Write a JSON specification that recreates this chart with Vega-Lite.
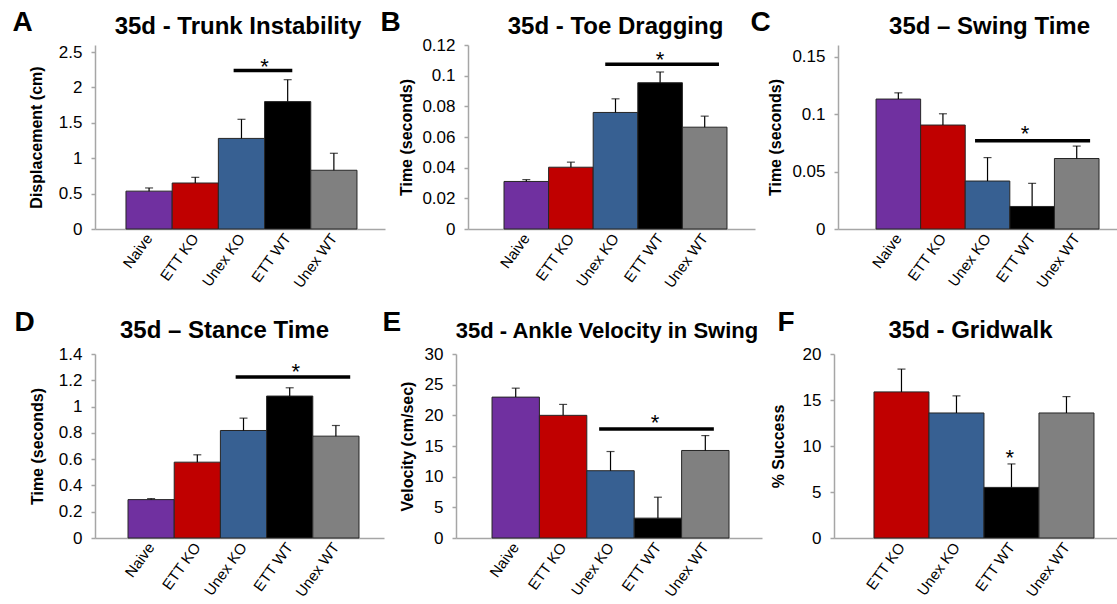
{
  "$schema": "https://vega.github.io/schema/vega-lite/v6.json",
  "padding": {"left": 12, "top": 8, "right": 0, "bottom": 0},
  "background": "white",
  "config": {
    "view": {"stroke": null},
    "font": "Liberation Sans",
    "title": {"font": "Liberation Sans", "fontSize": 24, "fontWeight": "bold", "color": "black", "baseline": "alphabetic"},
    "axisY": {"domainColor": "#a6a6a6", "domainWidth": 1.5, "tickColor": "#a6a6a6", "tickWidth": 1.5, "tickSize": 4, "tickCount": 20, "grid": false, "labelFont": "Liberation Sans", "labelFontSize": 17, "labelColor": "black", "labelPadding": 9, "labelOverlap": false, "labelFlush": false, "titleFont": "Liberation Sans", "titleFontSize": 16, "titleFontWeight": "bold", "titleColor": "black", "titlePadding": 4},
    "axisX": {"domainColor": "#a6a6a6", "domainWidth": 1.5, "ticks": false, "labelAngle": -54, "labelFont": "Liberation Sans", "labelFontSize": 15, "labelColor": "black", "labelPadding": 6, "labelOverlap": false, "titleFont": "Liberation Sans", "titleFontSize": 28, "titleFontWeight": "bold", "titleColor": "black"}
  },
  "datasets": {
    "A": [
      {"group": "Naive", "mean": 0.535, "upper": 0.58},
      {"group": "ETT KO", "mean": 0.65, "upper": 0.73},
      {"group": "Unex KO", "mean": 1.28, "upper": 1.55},
      {"group": "ETT WT", "mean": 1.8, "upper": 2.11},
      {"group": "Unex WT", "mean": 0.83, "upper": 1.07}
    ],
    "sigA": [{"from": "Unex KO", "to": "ETT WT", "y": 2.24, "star": "ETT WT", "sy": 2.38}],
    "B": [
      {"group": "Naive", "mean": 0.031, "upper": 0.0322},
      {"group": "ETT KO", "mean": 0.0403, "upper": 0.0436},
      {"group": "Unex KO", "mean": 0.076, "upper": 0.0849},
      {"group": "ETT WT", "mean": 0.0954, "upper": 0.1024},
      {"group": "Unex WT", "mean": 0.0664, "upper": 0.0736}
    ],
    "sigB": [{"from": "Unex KO", "to": "Unex WT", "y": 0.1074, "star": "ETT WT", "sy": 0.1139}],
    "C": [
      {"group": "Naive", "mean": 0.113, "upper": 0.1184},
      {"group": "ETT KO", "mean": 0.0904, "upper": 0.1002},
      {"group": "Unex KO", "mean": 0.0417, "upper": 0.0621},
      {"group": "ETT WT", "mean": 0.0196, "upper": 0.0397},
      {"group": "Unex WT", "mean": 0.0613, "upper": 0.0721}
    ],
    "sigC": [{"from": "Unex KO", "to": "Unex WT", "y": 0.0768, "star": "ETT WT", "sy": 0.0878}],
    "D": [
      {"group": "Naive", "mean": 0.292, "upper": 0.3},
      {"group": "ETT KO", "mean": 0.577, "upper": 0.633},
      {"group": "Unex KO", "mean": 0.818, "upper": 0.912},
      {"group": "ETT WT", "mean": 1.08, "upper": 1.143},
      {"group": "Unex WT", "mean": 0.775, "upper": 0.856}
    ],
    "sigD": [{"from": "Unex KO", "to": "Unex WT", "y": 1.225, "star": "ETT WT", "sy": 1.311}],
    "E": [
      {"group": "Naive", "mean": 22.97, "upper": 24.43},
      {"group": "ETT KO", "mean": 20.0, "upper": 21.78},
      {"group": "Unex KO", "mean": 10.97, "upper": 14.1},
      {"group": "ETT WT", "mean": 3.24, "upper": 6.65},
      {"group": "Unex WT", "mean": 14.27, "upper": 16.7}
    ],
    "sigE": [{"from": "Unex KO", "to": "Unex WT", "y": 17.78, "star": "ETT WT", "sy": 19.68}],
    "F": [
      {"group": "ETT KO", "mean": 15.88, "upper": 18.36},
      {"group": "Unex KO", "mean": 13.59, "upper": 15.45},
      {"group": "ETT WT", "mean": 5.5, "upper": 8.05},
      {"group": "Unex WT", "mean": 13.59, "upper": 15.37}
    ],
    "sigF": [{"star": "ETT WT", "sy": 9.32}]
  },
  "spacing": 17,
  "resolve": {"scale": {"x": "independent", "y": "independent"}},
  "vconcat": [
    {
      "hconcat": [
        {
          "width": 290, "height": 184,
          "title": {"text": "35d - Trunk Instability", "dx": -2, "offset": -31},
          "data": {"name": "A"},
          "resolve": {"axis": {"x": "independent"}},
          "layer": [
            {"mark": {"type": "bar", "stroke": "#262626", "strokeWidth": 1},
             "encoding": {
               "x": {"field": "group", "type": "nominal", "title": null, "scale": {"domain": ["Naive", "ETT KO", "Unex KO", "ETT WT", "Unex WT"], "paddingInner": 0, "paddingOuter": 0.6385, "align": 0.525}},
               "y": {"field": "mean", "type": "quantitative", "scale": {"domain": [0, 2.5]}, "axis": {"values": [0, 0.5, 1, 1.5, 2, 2.5], "tickCount": 20, "labelExpr": "format(datum.value, '~g')", "labelOverlap": false, "title": "Displacement (cm)", "minExtent": 47, "maxExtent": 47}},
               "color": {"field": "group", "type": "nominal", "legend": null, "scale": {"domain": ["Naive", "ETT KO", "Unex KO", "ETT WT", "Unex WT"], "range": ["#7030a0", "#c00000", "#376092", "#000000", "#808080"]}}}},
            {"mark": {"type": "rule", "color": "black", "strokeWidth": 1.2},
             "encoding": {"x": {"field": "group", "type": "nominal", "axis": null}, "y": {"field": "mean", "type": "quantitative"}, "y2": {"field": "upper"}}},
            {"mark": {"type": "tick", "color": "black", "orient": "horizontal", "size": 8, "thickness": 1.2},
             "encoding": {"x": {"field": "group", "type": "nominal", "axis": null}, "y": {"field": "upper", "type": "quantitative"}}},
            {"data": {"name": "sigA"}, "mark": {"type": "rule", "color": "black", "strokeWidth": 3.5},
             "encoding": {"x": {"field": "from", "type": "nominal", "bandPosition": 0.33, "axis": {"orient": "top", "labels": false, "ticks": false, "domain": false, "title": "A", "titleX": -83, "titleY": -15, "titleAlign": "left", "titleBaseline": "alphabetic", "titleAngle": 0}}, "x2": {"field": "to", "bandPosition": 0.6}, "y": {"field": "y", "type": "quantitative"}}},
            {"data": {"name": "sigA"}, "mark": {"type": "text", "text": "*", "fontSize": 22, "baseline": "middle", "dy": 6, "color": "black"},
             "encoding": {"x": {"field": "star", "type": "nominal", "axis": null, "bandPosition": 0}, "y": {"field": "sy", "type": "quantitative"}}}
          ]
        },
        {
          "width": 287, "height": 184,
          "title": {"text": "35d - Toe Dragging", "dx": 4, "offset": -31},
          "data": {"name": "B"},
          "resolve": {"axis": {"x": "independent"}},
          "layer": [
            {"mark": {"type": "bar", "stroke": "#262626", "strokeWidth": 1},
             "encoding": {
               "x": {"field": "group", "type": "nominal", "title": null, "scale": {"domain": ["Naive", "ETT KO", "Unex KO", "ETT WT", "Unex WT"], "paddingInner": 0, "paddingOuter": 0.7175, "align": 0.5625}},
               "y": {"field": "mean", "type": "quantitative", "scale": {"domain": [0, 0.12]}, "axis": {"values": [0, 0.02, 0.04, 0.06, 0.08, 0.1, 0.12], "tickCount": 20, "labelExpr": "format(datum.value, '~g')", "labelOverlap": false, "title": "Time (seconds)", "minExtent": 50, "maxExtent": 50}},
               "color": {"field": "group", "type": "nominal", "legend": null, "scale": {"domain": ["Naive", "ETT KO", "Unex KO", "ETT WT", "Unex WT"], "range": ["#7030a0", "#c00000", "#376092", "#000000", "#808080"]}}}},
            {"mark": {"type": "rule", "color": "black", "strokeWidth": 1.2},
             "encoding": {"x": {"field": "group", "type": "nominal", "axis": null}, "y": {"field": "mean", "type": "quantitative"}, "y2": {"field": "upper"}}},
            {"mark": {"type": "tick", "color": "black", "orient": "horizontal", "size": 8, "thickness": 1.2},
             "encoding": {"x": {"field": "group", "type": "nominal", "axis": null}, "y": {"field": "upper", "type": "quantitative"}}},
            {"data": {"name": "sigB"}, "mark": {"type": "rule", "color": "black", "strokeWidth": 3.5},
             "encoding": {"x": {"field": "from", "type": "nominal", "bandPosition": 0.27, "axis": {"orient": "top", "labels": false, "ticks": false, "domain": false, "title": "B", "titleX": -88, "titleY": -15, "titleAlign": "left", "titleBaseline": "alphabetic", "titleAngle": 0}}, "x2": {"field": "to", "bandPosition": 0.82}, "y": {"field": "y", "type": "quantitative"}}},
            {"data": {"name": "sigB"}, "mark": {"type": "text", "text": "*", "fontSize": 22, "baseline": "middle", "dy": 6, "color": "black"},
             "encoding": {"x": {"field": "star", "type": "nominal", "axis": null, "bandPosition": 0.5}, "y": {"field": "sy", "type": "quantitative"}}}
          ]
        },
        {
          "width": 279, "height": 184,
          "title": {"text": "35d – Swing Time", "dx": 12, "offset": -31},
          "data": {"name": "C"},
          "resolve": {"axis": {"x": "independent"}},
          "layer": [
            {"mark": {"type": "bar", "stroke": "#262626", "strokeWidth": 1},
             "encoding": {
               "x": {"field": "group", "type": "nominal", "title": null, "scale": {"domain": ["Naive", "ETT KO", "Unex KO", "ETT WT", "Unex WT"], "paddingInner": 0, "paddingOuter": 0.628, "align": 0.679}},
               "y": {"field": "mean", "type": "quantitative", "scale": {"domain": [0, 0.15]}, "axis": {"values": [0, 0.05, 0.1, 0.15], "tickCount": 20, "labelExpr": "format(datum.value, '~g')", "labelOverlap": false, "title": "Time (seconds)", "minExtent": 51, "maxExtent": 51}},
               "color": {"field": "group", "type": "nominal", "legend": null, "scale": {"domain": ["Naive", "ETT KO", "Unex KO", "ETT WT", "Unex WT"], "range": ["#7030a0", "#c00000", "#376092", "#000000", "#808080"]}}}},
            {"mark": {"type": "rule", "color": "black", "strokeWidth": 1.2},
             "encoding": {"x": {"field": "group", "type": "nominal", "axis": null}, "y": {"field": "mean", "type": "quantitative"}, "y2": {"field": "upper"}}},
            {"mark": {"type": "tick", "color": "black", "orient": "horizontal", "size": 8, "thickness": 1.2},
             "encoding": {"x": {"field": "group", "type": "nominal", "axis": null}, "y": {"field": "upper", "type": "quantitative"}}},
            {"data": {"name": "sigC"}, "mark": {"type": "rule", "color": "black", "strokeWidth": 3.5},
             "encoding": {"x": {"field": "from", "type": "nominal", "bandPosition": 0.22, "axis": {"orient": "top", "labels": false, "ticks": false, "domain": false, "title": "C", "titleX": -88, "titleY": -15, "titleAlign": "left", "titleBaseline": "alphabetic", "titleAngle": 0}}, "x2": {"field": "to", "bandPosition": 0.8}, "y": {"field": "y", "type": "quantitative"}}},
            {"data": {"name": "sigC"}, "mark": {"type": "text", "text": "*", "fontSize": 22, "baseline": "middle", "dy": 6, "color": "black"},
             "encoding": {"x": {"field": "star", "type": "nominal", "axis": null, "bandPosition": 0.34}, "y": {"field": "sy", "type": "quantitative"}}}
          ]
        }
      ],
      "spacing": 83,
      "bounds": "flush",
      "align": "none",
      "resolve": {"scale": {"x": "independent", "y": "independent"}}
    },
    {
      "hconcat": [
        {
          "width": 289, "height": 184,
          "title": {"text": "35d – Stance Time", "dx": -15, "offset": -35},
          "data": {"name": "D"},
          "resolve": {"axis": {"x": "independent"}},
          "layer": [
            {"mark": {"type": "bar", "stroke": "#262626", "strokeWidth": 1},
             "encoding": {
               "x": {"field": "group", "type": "nominal", "title": null, "scale": {"domain": ["Naive", "ETT KO", "Unex KO", "ETT WT", "Unex WT"], "paddingInner": 0, "paddingOuter": 0.628, "align": 0.569}},
               "y": {"field": "mean", "type": "quantitative", "scale": {"domain": [0, 1.4]}, "axis": {"values": [0, 0.2, 0.4, 0.6, 0.8, 1, 1.2, 1.4], "tickCount": 20, "labelExpr": "format(datum.value, '~g')", "labelOverlap": false, "title": "Time (seconds)", "minExtent": 46, "maxExtent": 46}},
               "color": {"field": "group", "type": "nominal", "legend": null, "scale": {"domain": ["Naive", "ETT KO", "Unex KO", "ETT WT", "Unex WT"], "range": ["#7030a0", "#c00000", "#376092", "#000000", "#808080"]}}}},
            {"mark": {"type": "rule", "color": "black", "strokeWidth": 1.2},
             "encoding": {"x": {"field": "group", "type": "nominal", "axis": null}, "y": {"field": "mean", "type": "quantitative"}, "y2": {"field": "upper"}}},
            {"mark": {"type": "tick", "color": "black", "orient": "horizontal", "size": 8, "thickness": 1.2},
             "encoding": {"x": {"field": "group", "type": "nominal", "axis": null}, "y": {"field": "upper", "type": "quantitative"}}},
            {"data": {"name": "sigD"}, "mark": {"type": "rule", "color": "black", "strokeWidth": 3.5},
             "encoding": {"x": {"field": "from", "type": "nominal", "bandPosition": 0.33, "axis": {"orient": "top", "labels": false, "ticks": false, "domain": false, "title": "D", "titleX": -81, "titleY": -24, "titleAlign": "left", "titleBaseline": "alphabetic", "titleAngle": 0}}, "x2": {"field": "to", "bandPosition": 0.81}, "y": {"field": "y", "type": "quantitative"}}},
            {"data": {"name": "sigD"}, "mark": {"type": "text", "text": "*", "fontSize": 22, "baseline": "middle", "dy": 6, "color": "black"},
             "encoding": {"x": {"field": "star", "type": "nominal", "axis": null, "bandPosition": 0.63}, "y": {"field": "sy", "type": "quantitative"}}}
          ]
        },
        {
          "width": 306, "height": 184,
          "title": {"text": "35d - Ankle Velocity in Swing", "dx": -2, "fontSize": 22, "offset": -35},
          "data": {"name": "E"},
          "resolve": {"axis": {"x": "independent"}},
          "layer": [
            {"mark": {"type": "bar", "stroke": "#262626", "strokeWidth": 1},
             "encoding": {
               "x": {"field": "group", "type": "nominal", "title": null, "scale": {"domain": ["Naive", "ETT KO", "Unex KO", "ETT WT", "Unex WT"], "paddingInner": 0, "paddingOuter": 0.728, "align": 0.522}},
               "y": {"field": "mean", "type": "quantitative", "scale": {"domain": [0, 30]}, "axis": {"values": [0, 5, 10, 15, 20, 25, 30], "tickCount": 20, "labelExpr": "format(datum.value, '~g')", "labelOverlap": false, "title": "Velocity (cm/sec)", "minExtent": 37, "maxExtent": 37}},
               "color": {"field": "group", "type": "nominal", "legend": null, "scale": {"domain": ["Naive", "ETT KO", "Unex KO", "ETT WT", "Unex WT"], "range": ["#7030a0", "#c00000", "#376092", "#000000", "#808080"]}}}},
            {"mark": {"type": "rule", "color": "black", "strokeWidth": 1.2},
             "encoding": {"x": {"field": "group", "type": "nominal", "axis": null}, "y": {"field": "mean", "type": "quantitative"}, "y2": {"field": "upper"}}},
            {"mark": {"type": "tick", "color": "black", "orient": "horizontal", "size": 8, "thickness": 1.2},
             "encoding": {"x": {"field": "group", "type": "nominal", "axis": null}, "y": {"field": "upper", "type": "quantitative"}}},
            {"data": {"name": "sigE"}, "mark": {"type": "rule", "color": "black", "strokeWidth": 3.5},
             "encoding": {"x": {"field": "from", "type": "nominal", "bandPosition": 0.26, "axis": {"orient": "top", "labels": false, "ticks": false, "domain": false, "title": "E", "titleX": -74, "titleY": -24, "titleAlign": "left", "titleBaseline": "alphabetic", "titleAngle": 0}}, "x2": {"field": "to", "bandPosition": 0.68}, "y": {"field": "y", "type": "quantitative"}}},
            {"data": {"name": "sigE"}, "mark": {"type": "text", "text": "*", "fontSize": 22, "baseline": "middle", "dy": 6, "color": "black"},
             "encoding": {"x": {"field": "star", "type": "nominal", "axis": null, "bandPosition": 0.44}, "y": {"field": "sy", "type": "quantitative"}}}
          ]
        },
        {
          "width": 285, "height": 184,
          "title": {"text": "35d - Gridwalk", "dx": -6, "offset": -35},
          "data": {"name": "F"},
          "resolve": {"axis": {"x": "independent"}},
          "layer": [
            {"mark": {"type": "bar", "stroke": "#262626", "strokeWidth": 1},
             "encoding": {
               "x": {"field": "group", "type": "nominal", "title": null, "scale": {"domain": ["ETT KO", "Unex KO", "ETT WT", "Unex WT"], "paddingInner": 0, "paddingOuter": 0.591, "align": 0.615}},
               "y": {"field": "mean", "type": "quantitative", "scale": {"domain": [0, 20]}, "axis": {"values": [0, 5, 10, 15, 20], "tickCount": 20, "labelExpr": "format(datum.value, '~g')", "labelOverlap": false, "title": "% Success", "minExtent": 44, "maxExtent": 44}},
               "color": {"field": "group", "type": "nominal", "legend": null, "scale": {"domain": ["Naive", "ETT KO", "Unex KO", "ETT WT", "Unex WT"], "range": ["#7030a0", "#c00000", "#376092", "#000000", "#808080"]}}}},
            {"mark": {"type": "rule", "color": "black", "strokeWidth": 1.2},
             "encoding": {"x": {"field": "group", "type": "nominal", "axis": null}, "y": {"field": "mean", "type": "quantitative"}, "y2": {"field": "upper"}}},
            {"mark": {"type": "tick", "color": "black", "orient": "horizontal", "size": 8, "thickness": 1.2},
             "encoding": {"x": {"field": "group", "type": "nominal", "axis": null}, "y": {"field": "upper", "type": "quantitative"}}},
            {"data": {"name": "sigF"}, "mark": {"type": "text", "text": "*", "fontSize": 22, "baseline": "middle", "dy": 6, "color": "black"},
             "encoding": {"x": {"field": "star", "type": "nominal", "bandPosition": 0.47, "axis": {"orient": "top", "labels": false, "ticks": false, "domain": false, "title": "F", "titleX": -57, "titleY": -24, "titleAlign": "left", "titleBaseline": "alphabetic", "titleAngle": 0}}, "y": {"field": "sy", "type": "quantitative"}}}
          ]
        }
      ],
      "spacing": 72,
      "bounds": "flush",
      "align": "none",
      "resolve": {"scale": {"x": "independent", "y": "independent"}}
    }
  ]
}
